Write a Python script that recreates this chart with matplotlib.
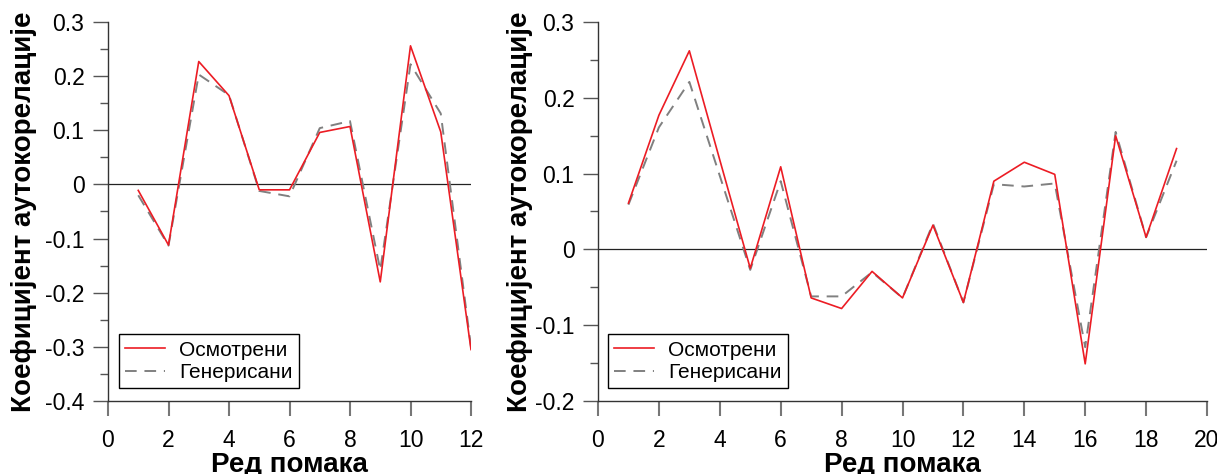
import numpy as np
import matplotlib
matplotlib.use("Agg")
import matplotlib.pyplot as plt
from matplotlib.ticker import MultipleLocator, FuncFormatter

plt.rcParams['font.family'] = ['Liberation Sans', 'DejaVu Sans']
plt.rcParams['axes.unicode_minus'] = False

# data
lags_a = [1, 2, 3, 4, 5, 6, 7, 8, 9, 10, 11, 12]
observed_a = [-0.011, -0.112, 0.227, 0.164, -0.010, -0.010, 0.096, 0.107, -0.180, 0.256, 0.097, -0.305]
generated_a = [-0.020, -0.113, 0.203, 0.165, -0.012, -0.022, 0.104, 0.117, -0.158, 0.222, 0.131, -0.300]

lags_b = list(range(1, 20))
observed_b = [0.061, 0.177, 0.262, 0.118, -0.025, 0.109, -0.064, -0.078, -0.029, -0.064,
              0.032, -0.070, 0.090, 0.115, 0.099, -0.151, 0.150, 0.016, 0.133]
generated_b = [0.059, 0.161, 0.221, 0.097, -0.027, 0.090, -0.062, -0.062, -0.030, -0.064,
               0.034, -0.070, 0.086, 0.083, 0.087, -0.129, 0.155, 0.016, 0.117]

labels = ['Осмотрени', 'Генерисани']
xlabel = 'Ред помака'
ylabel = 'Коефицијент аутокорелације'

red = '#ec1c24'
gray = '#808080'


def fmt(v, pos):
    if abs(v) < 1e-9:
        return '0'
    return '%.1f' % v


def format_axis(ax, handles, xmax, ymin, ymax, legend_x, label_x):
    ax.set_xlim(0, xmax)
    ax.set_ylim(ymin, ymax)
    for s in ['top', 'right']:
        ax.spines[s].set_visible(False)
    for s in ['left', 'bottom']:
        ax.spines[s].set_color('#333333')
        ax.spines[s].set_linewidth(1.0)
    ax.xaxis.set_major_locator(MultipleLocator(2))
    ax.yaxis.set_major_locator(MultipleLocator(0.1))
    ax.yaxis.set_minor_locator(MultipleLocator(0.05))
    ax.yaxis.set_major_formatter(FuncFormatter(fmt))
    ax.tick_params(axis='y', which='major', length=11, width=1.0, color='#555555',
                   labelsize=16.5, pad=6, direction='out')
    ax.tick_params(axis='y', which='minor', length=6, width=1.0, color='#555555')
    ax.tick_params(axis='x', which='major', length=11, width=1.5, color='#777777',
                   labelsize=16.5, pad=9, direction='out')
    ax.axhline(0, color='#222222', lw=0.9, zorder=1)
    ax.set_xlabel(xlabel, fontsize=20, fontweight='bold', labelpad=0)
    ax.set_ylabel(ylabel, fontsize=20, fontweight='bold')
    ax.yaxis.set_label_coords(label_x, 0.5)
    leg = ax.legend(handles, labels, loc='lower left', bbox_to_anchor=(legend_x, 0.034),
                    fontsize=15, fancybox=False, edgecolor='black', framealpha=1,
                    handlelength=1.9, handletextpad=0.7, borderpad=0.3,
                    labelspacing=0.15, borderaxespad=0)
    leg.get_frame().set_linewidth(1.0)


fig = plt.figure(figsize=(12.17, 4.74), dpi=100)
ax1 = fig.add_axes([108 / 1217, 73 / 474, 363 / 1217, 379 / 474])
ax2 = fig.add_axes([598 / 1217, 73 / 474, 609 / 1217, 379 / 474])

g1, = ax1.plot(lags_a, generated_a, color=gray, lw=1.4, dashes=(6, 4), zorder=2)
o1, = ax1.plot(lags_a, observed_a, color=red, lw=1.2, zorder=3)
g2, = ax2.plot(lags_b, generated_b, color=gray, lw=1.4, dashes=(6, 4), zorder=2)
o2, = ax2.plot(lags_b, observed_b, color=red, lw=1.2, zorder=3)

format_axis(ax1, [o1, g1], 12, -0.4, 0.3, 0.030, -0.195)
format_axis(ax2, [o2, g2], 20, -0.2, 0.3, 0.016, -0.107)

fig.savefig('out.png', dpi=100)
